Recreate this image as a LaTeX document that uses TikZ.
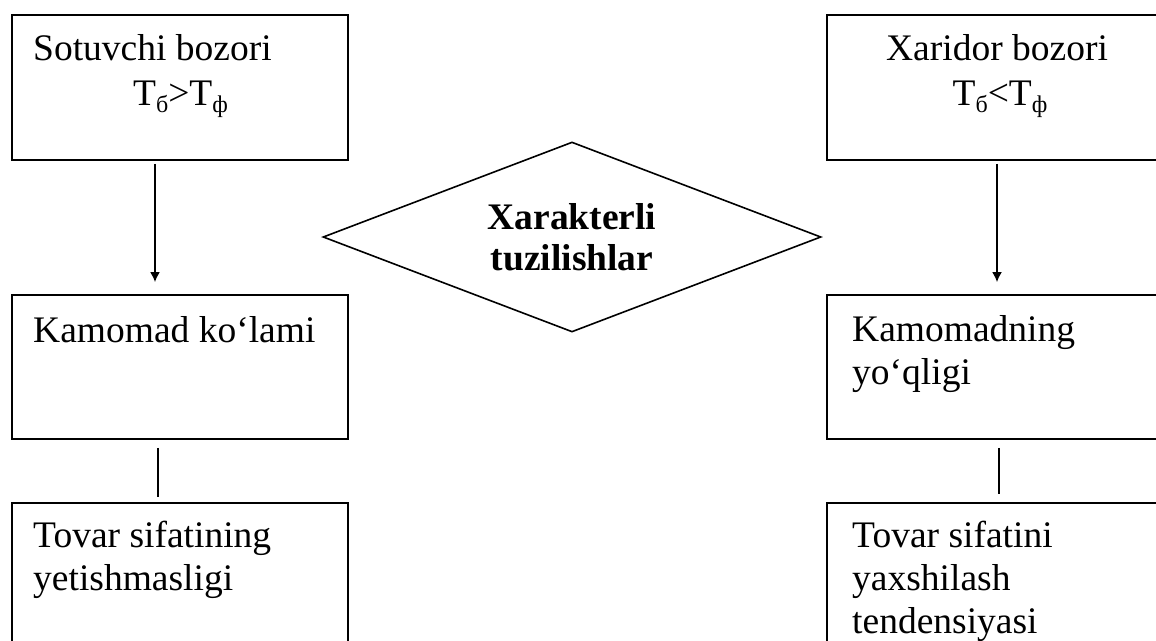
\documentclass[tikz,border=0pt]{standalone}
\usepackage{fontspec}
\setmainfont{Liberation Serif}
\usetikzlibrary{shapes.geometric,arrows.meta}
\newcommand{\subs}[1]{\raisebox{-7pt}{\fontsize{24}{24}\selectfont #1}}
\begin{document}
\begin{tikzpicture}[x=1pt,y=-1pt,
  boxl/.style={draw, line width=1.8pt, rectangle, inner sep=0pt, minimum width=336pt},
  boxr/.style={draw, line width=1.8pt, rectangle, inner sep=0pt, minimum width=343pt},
  txt/.style={anchor=base west, inner sep=0pt, align=left, font=\fontsize{37.5}{43}\selectfont},
  ctxt/.style={anchor=base, inner sep=0pt, align=center, font=\fontsize{37.5}{43}\selectfont},
  conn/.style={line width=1.7pt},
  arr/.style={conn, -{Latex[length=10pt,width=10pt]}},
  dia/.style={draw, line width=1.6pt, diamond, aspect=2.62, inner sep=0pt,
    minimum width=498pt, minimum height=190pt, align=center,
    font=\fontsize{37.5}{41}\selectfont\bfseries}]
\useasboundingbox (0,0) rectangle (1156,640);
\clip (0,0) rectangle (1156,640);
% left column
\node[boxl, minimum height=145pt] (l1) at (180,87.5) {};
\node[boxl, minimum height=144pt] (l2) at (180,367) {};
\node[boxl, minimum height=177pt] (l3) at (180,591.5) {};
% right column
\node[boxr, minimum height=145pt] (r1) at (998.5,87.5) {};
\node[boxr, minimum height=144pt] (r2) at (998.5,367) {};
\node[boxr, minimum height=177pt] (r3) at (998.5,591.5) {};
% diamond
\node[dia] (d) at (572,237) {Xarakterli\\tuzilishlar};
% texts (base anchor = baseline of the last line)
\node[txt] (t1) at (33,60) {Sotuvchi bozori};
\node[txt] (t1b) at (133,105) {T\subs{б}>T\subs{ф}};
\node[txt] (t2) at (33,342) {Kamomad ko‘lami};
\node[txt] (t3) at (33,590) {Tovar sifatining\\yetishmasligi};
\node[ctxt] (u1) at (997,60) {Xaridor bozori};
\node[ctxt] (u1b) at (1000,105) {T\subs{б}<T\subs{ф}};
\node[txt] (u2) at (852,384) {Kamomadning\\yo‘qligi};
\node[txt] (u3) at (852,633) {Tovar sifatini\\yaxshilash\\tendensiyasi};
% connectors
\draw[arr, shorten <=3pt, shorten >=12pt] ([xshift=-25pt]l1.south) -- ([xshift=-25pt]l2.north);
\draw[conn, shorten <=8pt, shorten >=5pt] ([xshift=-22pt]l2.south) -- ([xshift=-22pt]l3.north);
\draw[arr, shorten <=3pt, shorten >=12pt] ([xshift=-1.5pt]r1.south) -- ([xshift=-1.5pt]r2.north);
\draw[conn, shorten <=8pt, shorten >=8pt] ([xshift=0.5pt]r2.south) -- ([xshift=0.5pt]r3.north);
\end{tikzpicture}
\end{document}
